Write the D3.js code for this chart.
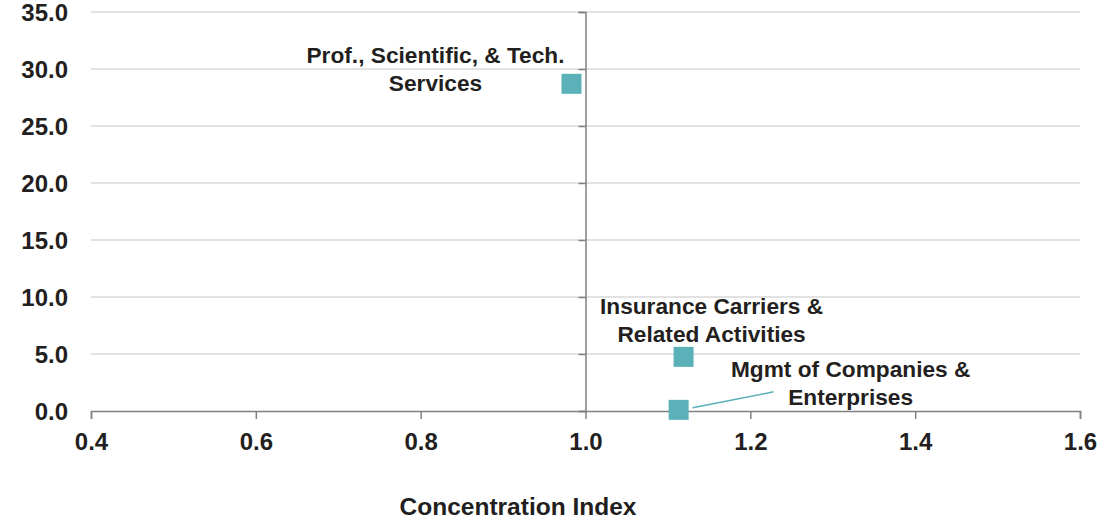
<!DOCTYPE html>
<html><head><meta charset="utf-8">
<script src="https://cdn.jsdelivr.net/npm/d3@7"></script>
<style>
html,body{margin:0;padding:0;background:#fff;}
text{font-family:"Liberation Sans",Arial,sans-serif;font-weight:bold;fill:#231f20;}
</style></head>
<body>
<svg id="c" width="1100" height="523"></svg>
<script>
const names = ["Prof., Scientific, & Tech. Services", "Insurance Carriers & Related Activities", "Mgmt of Companies & Enterprises"];
const labelLines = [["Prof., Scientific, & Tech.", "Services"], ["Insurance Carriers &", "Related Activities"], ["Mgmt of Companies &", "Enterprises"]];
const xValues = [0.983, 1.119, 1.113];
const yValues = [28.7, 4.75, 0.1];
const xTicks = [0.4, 0.6, 0.8, 1.0, 1.2, 1.4, 1.6];
const yTicks = [0, 5, 10, 15, 20, 25, 30, 35];
const xTitle = "Concentration Index";

const svg = d3.select("#c");
const x = d3.scaleLinear().domain([0.4, 1.6]).range([91, 1080]);
const y = d3.scaleLinear().domain([0, 35]).range([411, 12]);

// gridlines
svg.append("g").selectAll("line").data(yTicks.filter(d => d > 0)).join("line")
  .attr("x1", x(0.4)).attr("x2", x(1.6))
  .attr("y1", d => y(d)).attr("y2", d => y(d))
  .attr("stroke", "#d9d9d9").attr("stroke-width", 1.5);

// y tick labels
svg.append("g").selectAll("text").data(yTicks).join("text")
  .attr("x", 68).attr("y", d => y(d)).attr("dy", "0.36em")
  .attr("text-anchor", "end").style("font-size", "24px")
  .text(d => d3.format(".1f")(d));

// x axis
const xAxis = d3.axisBottom(x).tickValues(xTicks).tickSize(8).tickPadding(14).tickFormat(d3.format(".1f"));
const gx = svg.append("g").attr("transform", `translate(0,${y(0)})`).call(xAxis);
gx.select(".domain").attr("stroke", "#808080").attr("stroke-width", 1.5);
gx.selectAll(".tick line").attr("stroke", "#808080").attr("stroke-width", 1.5);
gx.selectAll(".tick text").style("font-size", "24px").attr("fill", "#231f20")
  .style("font-family", "'Liberation Sans',Arial,sans-serif").style("font-weight", "bold");

// vertical axis at x = 1.0
const gy = svg.append("g").attr("transform", `translate(${x(1.0)},0)`)
  .call(d3.axisLeft(y).tickValues(yTicks).tickSize(7).tickFormat(""));
gy.select(".domain").attr("stroke", "#808080").attr("stroke-width", 1.5);
gy.selectAll(".tick line").attr("stroke", "#808080").attr("stroke-width", 1.5);

// x title
svg.append("text").attr("x", 518).attr("y", 515).attr("text-anchor", "middle")
  .style("font-size", "24.5px").text(xTitle);

// leader line for Mgmt
svg.append("line")
  .attr("x1", x(xValues[2]) + 14).attr("y1", y(yValues[2]) - 2)
  .attr("x2", x(xValues[2]) + 95).attr("y2", y(yValues[2]) - 18)
  .attr("stroke", "#5bb1b8").attr("stroke-width", 1.5);

// points
const sz = 20;
svg.append("g").selectAll("rect").data(names).join("rect")
  .attr("x", (d, i) => x(xValues[i]) - sz / 2)
  .attr("y", (d, i) => y(yValues[i]) - sz / 2)
  .attr("width", sz).attr("height", sz)
  .attr("fill", "#5bb1b8");

// labels (offsets relative to points)
const offs = [[-136, -21], [28, -43], [172, -33]];
labelLines.forEach((lines, i) => {
  const t = svg.append("text").attr("text-anchor", "middle").style("font-size", "22.7px")
    .attr("transform", `translate(${x(xValues[i]) + offs[i][0]},${y(yValues[i]) + offs[i][1]})`);
  lines.forEach((l, j) => {
    t.append("tspan").attr("x", 0).attr("y", j * 28 - (lines.length - 1) * 28 + 28).text(l);
  });
});
</script>
</body></html>
